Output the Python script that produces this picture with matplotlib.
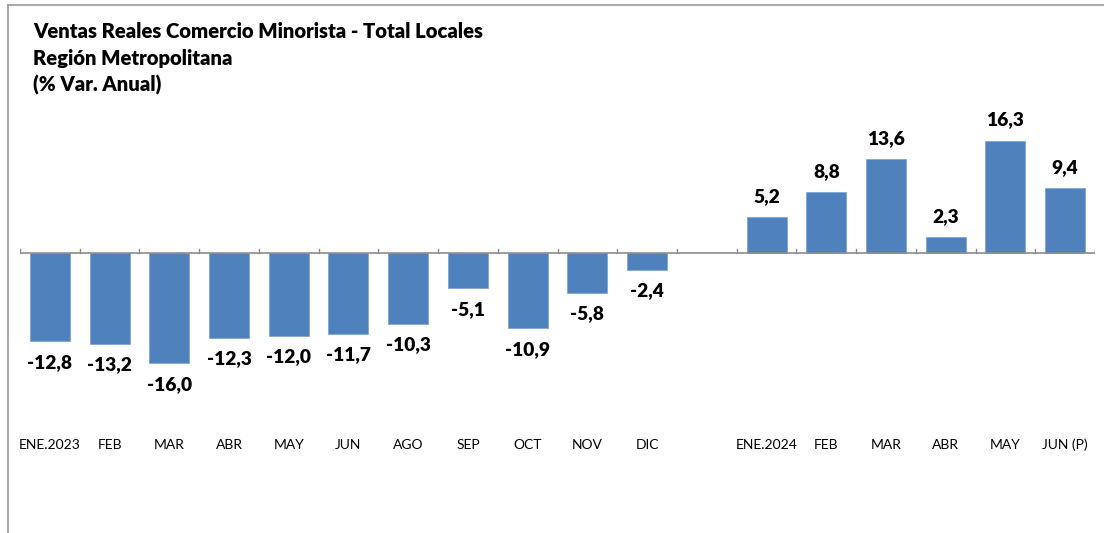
import matplotlib
matplotlib.use("Agg")
import matplotlib.pyplot as plt
from matplotlib.lines import Line2D

categories = ["ENE.2023", "FEB", "MAR", "ABR", "MAY", "JUN", "AGO", "SEP", "OCT", "NOV", "DIC",
              "", "ENE.2024", "FEB", "MAR", "ABR", "MAY", "JUN (P)"]
values = [-12.8, -13.2, -16.0, -12.3, -12.0, -11.7, -10.3, -5.1, -10.9, -5.8, -2.4,
          None, 5.2, 8.8, 13.6, 2.3, 16.3, 9.4]
title_lines = ["Ventas Reales Comercio Minorista - Total Locales",
               "Región Metropolitana",
               "(% Var. Anual)"]

plt.rcParams['font.family'] = ['Lato', 'DejaVu Sans']

W, H = 1104, 533
fig = plt.figure(figsize=(W / 100, H / 100), dpi=100)

# frame border
fig.add_artist(Line2D([8 / W, 8 / W], [0, 1 - 5 / H], transform=fig.transFigure, color="#9a9a9a", lw=1.2))
fig.add_artist(Line2D([8 / W, 1], [1 - 5 / H, 1 - 5 / H], transform=fig.transFigure, color="#9a9a9a", lw=1.2))

# title
for i, t in enumerate(title_lines):
    fig.text(33 / W, 1 - (31 + 27 * i) / H, t, fontsize=14.6, fontweight="heavy", va="center", ha="left")

px_per_unit = 6.9
zero_px = 253
top_px, bot_px = 95, 533
ax = fig.add_axes([20 / W, 0, (1095 - 20) / W, (bot_px - top_px) / H])
ax.set_xlim(-0.5, len(categories) - 0.5)
ax.set_ylim(-(bot_px - zero_px) / px_per_unit, (zero_px - top_px) / px_per_unit)
ax.axis("off")

xs = [i for i, v in enumerate(values) if v is not None]
vs = [v for v in values if v is not None]
ax.bar(xs, vs, width=0.67, color="#4F81BD", edgecolor="#7FA6D6", linewidth=0.6, zorder=2)

# zero axis line and boundary ticks
ax.axhline(0, color="#8c8c8c", lw=1.2, zorder=3)
tick_h = 4 / px_per_unit
for b in range(len(categories) + 1):
    ax.plot([b - 0.5, b - 0.5], [0, tick_h], color="#8c8c8c", lw=1.0, zorder=3)

# value labels
off = 21 / px_per_unit
for x, v in zip(xs, vs):
    y = v + off if v > 0 else v - off
    ax.text(x, y, f"{v:.1f}".replace(".", ","), ha="center", va="center",
            fontsize=13.8, fontweight="heavy", zorder=4)

# category labels
lab_y = -(445 - zero_px) / px_per_unit
for i, c in enumerate(categories):
    if c:
        ax.text(i, lab_y, c, ha="center", va="center", fontsize=10)

fig.savefig("out.png", dpi=100)
